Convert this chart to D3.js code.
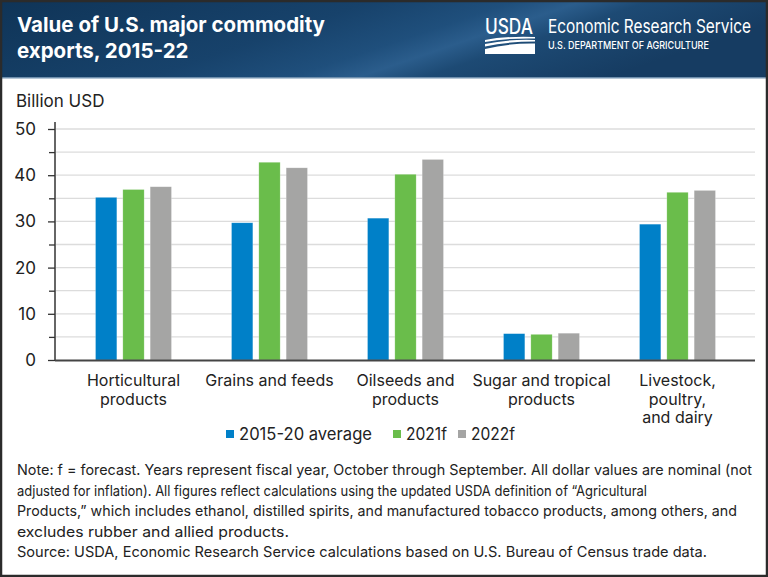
<!DOCTYPE html>
<html><head><meta charset="utf-8">
<script src="https://cdn.jsdelivr.net/npm/d3@7"></script>
<style>
html,body{margin:0;padding:0;background:#fff;}
svg{display:block;}
text{font-family:Inter,"Noto Sans",sans-serif;}
</style></head>
<body>
<script>
const categories = ["Horticultural products","Grains and feeds","Oilseeds and products","Sugar and tropical products","Livestock, poultry, and dairy"];
const categoryLines = [["Horticultural","products"],["Grains and feeds"],["Oilseeds and","products"],["Sugar and tropical","products"],["Livestock,","poultry,","and dairy"]];
const seriesNames = ["2015-20 average","2021f","2022f"];
const avg2015_20 = [35.2, 29.7, 30.7, 5.7, 29.4];
const f2021 = [36.9, 42.8, 40.2, 5.55, 36.3];
const f2022 = [37.5, 41.6, 43.4, 5.8, 36.7];
const seriesValues = [avg2015_20, f2021, f2022];
const colors = ["#0080c8","#6abd4b","#a5a5a4"];
const majorTicks = [0,10,20,30,40,50];
const minorTicks = [5,15,25,35,45];
const noteLines = [
 "Note: f = forecast. Years represent fiscal year, October through September. All dollar values are nominal (not",
 "adjusted for inflation). All figures reflect calculations using the updated USDA definition of \u201cAgricultural",
 "Products,\u201d which includes ethanol, distilled spirits, and manufactured tobacco products, among others, and",
 "excludes rubber and allied products."
];
const sourceLine = "Source: USDA, Economic Research Service calculations based on U.S. Bureau of Census trade data.";

const W=768,H=577;
const svg=d3.select("body").append("svg").attr("width",W).attr("height",H);

// header
const defs=svg.append("defs");
const g1=defs.append("linearGradient").attr("id","hdr").attr("x1","0").attr("y1","0").attr("x2","1").attr("y2","0.3");
[[0,"#0f3457"],[0.45,"#17426b"],[0.62,"#1f4f7c"],[0.7,"#2b5d8c"],[0.78,"#1d4a74"],[1,"#163c62"]].forEach(s=>g1.append("stop").attr("offset",s[0]).attr("stop-color",s[1]));
svg.append("rect").attr("x",0).attr("y",0).attr("width",W).attr("height",78).attr("fill","url(#hdr)");
svg.append("rect").attr("x",0).attr("y",77).attr("width",W).attr("height",1.5).attr("fill","#6f8fad");

const title=svg.append("text").attr("fill","#fff").attr("font-weight",700).attr("font-size",20.5);
title.append("tspan").attr("x",17).attr("y",32).text("Value of U.S. major commodity");
title.append("tspan").attr("x",17).attr("y",58).text("exports, 2015-22");

// logo
svg.append("text").attr("transform","translate(485,34) scale(0.82,1)").attr("fill","#fff").attr("font-weight",500).attr("font-size",21)
  .text("USDA");
svg.append("path").attr("fill","#fff").attr("d","M485,40 Q505,36 535,37 L535,38.5 Q505,38 485,42 Z M485,44 Q508,39 535,40 L535,41.5 Q508,41.5 485,46.5 Z M485,49 Q510,43 535,43.5 L535,54 L485,54 Z");
svg.append("text").attr("transform","translate(548,33) scale(0.81,1)").attr("fill","#fff").attr("font-size",19)
  .text("Economic Research Service");
svg.append("text").attr("transform","translate(548,49) scale(0.82,1)").attr("fill","#fff").attr("font-size",11).attr("font-weight",500)
  .text("U.S. DEPARTMENT OF AGRICULTURE");

// chart
const x0=d3.scaleBand().domain(categories).range([65.5,745.5]).paddingInner(0).paddingOuter(0);
const y=d3.scaleLinear().domain([0,50]).range([360,129]);
const x1=d3.scaleBand().domain(seriesNames).range([0,x0.bandwidth()]).paddingInner(0.22).paddingOuter(1.1);

svg.append("text").attr("x",16).attr("y",107).attr("font-size",17).attr("fill","#222").text("Billion USD");

// gridlines
svg.append("g").selectAll("line").data(majorTicks.concat(minorTicks).filter(d=>d>0)).join("line")
  .attr("x1",56).attr("x2",755).attr("y1",d=>y(d)).attr("y2",d=>y(d))
  .attr("stroke","#dcdcdc").attr("stroke-width",1.3);

// bars
const groups=svg.append("g").selectAll("g").data(categories).join("g")
  .attr("transform",d=>`translate(${x0(d)},0)`);
groups.selectAll("rect").data((d,i)=>seriesNames.map((s,j)=>({s,v:seriesValues[j][i],c:colors[j]}))).join("rect")
  .attr("x",d=>x1(d.s)).attr("width",x1.bandwidth())
  .attr("y",d=>y(d.v)).attr("height",d=>y(0)-y(d.v)).attr("fill",d=>d.c)
  .attr("stroke","rgba(255,255,255,0.35)").attr("stroke-width",0.6);

// y axis
const yAxis=d3.axisLeft(y).tickValues(majorTicks).tickSize(7).tickPadding(12).tickFormat(d3.format("d"));
const ya=svg.append("g").attr("transform","translate(55,0)").call(yAxis);
ya.select(".domain").remove();
ya.selectAll(".tick line").attr("stroke","#333").attr("stroke-width",1.3);
ya.selectAll(".tick text").attr("font-size",17).attr("fill","#222").attr("font-family","Inter,sans-serif");
const yMinor=d3.axisLeft(y).tickValues(minorTicks).tickSize(6).tickFormat("");
const ym=svg.append("g").attr("transform","translate(55,0)").call(yMinor);
ym.select(".domain").remove();
ym.selectAll(".tick line").attr("stroke","#333").attr("stroke-width",1.3);
svg.append("line").attr("x1",55).attr("x2",55).attr("y1",122).attr("y2",361).attr("stroke","#333").attr("stroke-width",1.5);
svg.append("line").attr("x1",55).attr("x2",755).attr("y1",360.5).attr("y2",360.5).attr("stroke","#444").attr("stroke-width",1.8);

// category labels
categories.forEach((c,i)=>{
  const t=svg.append("text").attr("text-anchor","middle").attr("font-size",16).attr("fill","#222");
  categoryLines[i].forEach((ln,k)=>t.append("tspan").attr("x",x0(c)+x0.bandwidth()/2).attr("y",386+k*18.5).text(ln));
});

// legend
const legendX=[226,393,458];
const legendW=[133,41,44];
seriesNames.forEach((s,i)=>{
  svg.append("rect").attr("x",legendX[i]).attr("y",430).attr("width",8).attr("height",8).attr("fill",colors[i]);
  svg.append("text").attr("x",legendX[i]+13).attr("y",439.5).attr("font-size",17).attr("fill","#222")
    .attr("textLength",legendW[i]).attr("lengthAdjust","spacingAndGlyphs").text(s);
});

// notes
const noteWidths=[735,630,720,272];
noteLines.forEach((ln,i)=>{
  svg.append("text").attr("x",17).attr("y",475+i*20.5).attr("font-size",14.5).attr("fill","#222")
    .attr("textLength",noteWidths[i]).attr("lengthAdjust","spacingAndGlyphs").text(ln);
});
svg.append("text").attr("x",17).attr("y",557).attr("font-size",14.5).attr("fill","#222")
  .attr("textLength",690).attr("lengthAdjust","spacingAndGlyphs").text(sourceLine);

// frame
svg.append("rect").attr("x",1).attr("y",1).attr("width",W-2).attr("height",H-2).attr("fill","none").attr("stroke","#2b2b2b").attr("stroke-width",2.5);
</script>
</body></html>
